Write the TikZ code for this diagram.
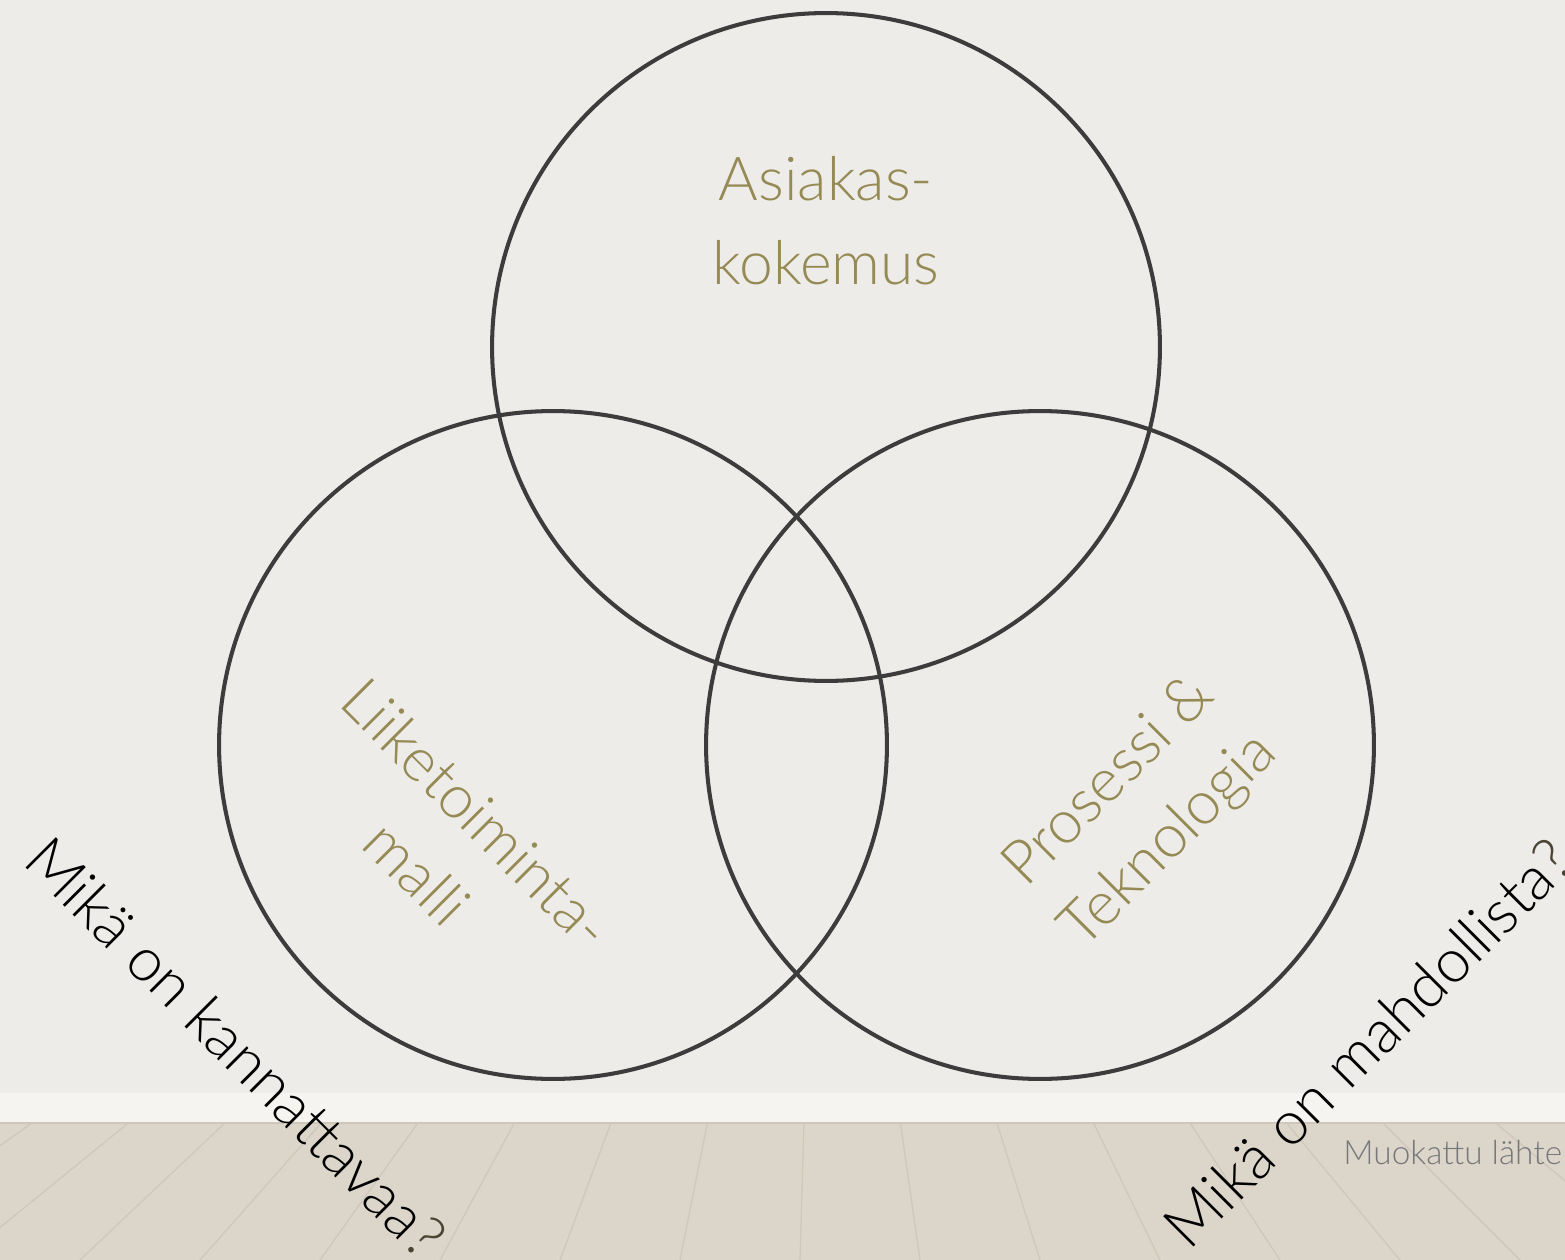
\documentclass[tikz,border=0pt]{standalone}
\usepackage{fontspec}
\setmainfont{Lato}[UprightFont=* Light]
\definecolor{wall}{HTML}{EEECE8}
\definecolor{skirting}{HTML}{F5F4F1}
\definecolor{floorwood}{HTML}{DCD5C9}
\definecolor{floorgrain}{HTML}{CFC7B8}
\definecolor{ringgray}{HTML}{3C3C3C}
\definecolor{olivetext}{HTML}{958A55}
\definecolor{qmark}{HTML}{4A4434}
\definecolor{notegray}{HTML}{77787C}
\begin{document}
\begin{tikzpicture}[x=0.02cm,y=-0.02cm,
    ring/.style={draw=ringgray,line width=2.3pt,circle,minimum size=13.36cm,inner sep=0pt},
    areatext/.style={text=olivetext,font=\fontsize{34.5}{48}\selectfont,align=center},
    question/.style={text=black,font=\fontsize{34.5}{48}\selectfont},
    grain/.style={draw=floorgrain,line width=0.7pt}]
  % room
  \useasboundingbox (0,0) rectangle (1565,1260);
  \fill[wall] (0,0) rectangle (1565,1093);
  \fill[skirting] (0,1093) rectangle (1565,1122);
  \fill[floorwood] (0,1122) rectangle (1565,1260);
  \draw[floorgrain,line width=1pt] (0,1123) -- (1565,1123);
  \begin{scope}
    \clip (0,1124) rectangle (1565,1260);
    \foreach \x in {-900,-780,-640,-520,-400,-280,-160,-40,80,200,320,440,560,680,800,920,1040,1160,1280,1400,1520,1660,1800,1960,2140}
      \draw[grain] (\x,1260) -- (820,560);
  \end{scope}
  % circles
  \node[ring] (asiakas) at (826,347) {};
  \node[ring] (liike) at (553,745) {};
  \node[ring] (prosessi) at (1040,745) {};
  % texts
  \node[areatext] (asiakasText) at (826,221) {Asiakas-\\kokemus};
  \node[areatext,rotate=-45] (liikeText) at (447,843) {Liiketoiminta-\\malli};
  \node[areatext,rotate=45] (prosessiText) at (1140,812) {Prosessi \&\\Teknologia};
  \node[question,rotate=-45] (kannattava) at (236,1047) {Mikä on kannattavaa\textcolor{qmark}{?}};
  \node[question,rotate=45] (mahdollinen) at (1368,1043) {Mikä on mahdollista\textcolor{qmark}{?}};
  \node[text=notegray,font=\fontsize{19}{23}\selectfont,anchor=base west,inner sep=0pt] (lahde) at (1343,1164) {Muokattu lähte};
\end{tikzpicture}
\end{document}
